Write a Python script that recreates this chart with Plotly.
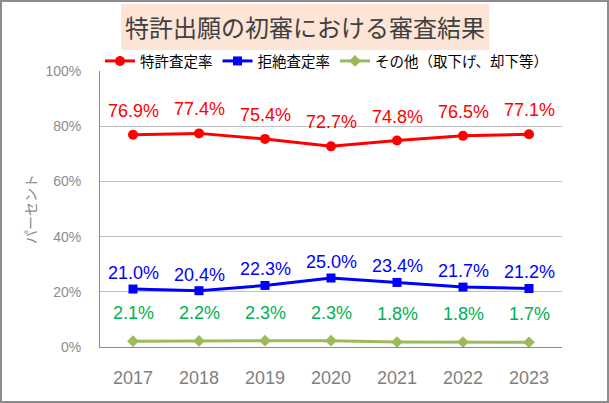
import plotly.graph_objects as go

# Data
years = ["2017", "2018", "2019", "2020", "2021", "2022", "2023"]
grant_rate = [76.9, 77.4, 75.4, 72.7, 74.8, 76.5, 77.1]
reject_rate = [21.0, 20.4, 22.3, 25.0, 23.4, 21.7, 21.2]
other_rate = [2.1, 2.2, 2.3, 2.3, 1.8, 1.8, 1.7]

series_names = ["特許査定率", "拒絶査定率", "その他（取下げ、却下等）"]
series_values = [grant_rate, reject_rate, other_rate]
line_colors = ["#ff0000", "#0000ff", "#9bbb59"]
label_colors = ["#ff0000", "#0000ff", "#00b050"]
symbols = ["circle", "square", "diamond"]
marker_sizes = [10, 9, 9]
label_shift = [24, 16, 28]

FONT = "Liberation Sans, Arial, sans-serif"
JP_FONT = "Noto Sans CJK JP"

W, H = 609, 403
L, R, T, B = 100, 47, 71, 56
pw, ph = W - L - R, H - T - B


def px_to_paper(xp, yp):
    return (xp - L) / pw, (H - B - yp) / ph


fig = go.Figure()
for name, vals, lc, sym, ms in zip(series_names, series_values, line_colors, symbols, marker_sizes):
    fig.add_trace(
        go.Scatter(
            x=years,
            y=vals,
            name=name,
            mode="lines+markers",
            line=dict(color=lc, width=3),
            marker=dict(symbol=sym, size=ms, color=lc),
        )
    )

# Data labels above each point (category index used for x)
annotations = []
for vals, tc, shift in zip(series_values, label_colors, label_shift):
    for i, v in enumerate(vals):
        annotations.append(
            dict(
                x=i,
                y=v,
                xref="x",
                yref="y",
                text=f"{v:.1f}%",
                showarrow=False,
                xanchor="center",
                yanchor="middle",
                yshift=shift,
                font=dict(family=FONT, size=18, color=tc),
            )
        )

# Title in a shaded box
tx, ty = px_to_paper(305, 27)
annotations.append(
    dict(
        x=tx,
        y=ty,
        xref="paper",
        yref="paper",
        xanchor="center",
        yanchor="middle",
        text="特許出願の初審における審査結果",
        showarrow=False,
        font=dict(family=JP_FONT, size=24, color="#404040"),
    )
)

# y-axis title
yx, yy = px_to_paper(30, 209)
annotations.append(
    dict(
        x=yx,
        y=yy,
        xref="paper",
        yref="paper",
        xanchor="center",
        yanchor="middle",
        text="パーセント",
        textangle=-90,
        showarrow=False,
        font=dict(family=JP_FONT, size=14, color="#8c8c8c"),
    )
)

bx0, by0 = px_to_paper(121, 50)
bx1, by1 = px_to_paper(489, 4)
fx0, fy0 = px_to_paper(1, 402)
fx1, fy1 = px_to_paper(608, 1)
shapes = [
    dict(
        type="rect",
        xref="paper",
        yref="paper",
        x0=bx0,
        y0=by0,
        x1=bx1,
        y1=by1,
        fillcolor="#fce4d6",
        line=dict(width=0),
        layer="below",
    ),
    dict(
        type="rect",
        xref="paper",
        yref="paper",
        x0=fx0,
        y0=fy0,
        x1=fx1,
        y1=fy1,
        line=dict(color="#8c8c8c", width=2),
    ),
]

lx, ly = px_to_paper(100, 61)

fig.update_layout(
    width=W,
    height=H,
    margin=dict(l=L, r=R, t=T, b=B, pad=0),
    paper_bgcolor="white",
    plot_bgcolor="white",
    showlegend=True,
    legend=dict(
        orientation="h",
        x=lx,
        y=ly,
        xanchor="left",
        yanchor="middle",
        font=dict(family=JP_FONT, size=14.5, color="black"),
        itemwidth=30,
        tracegroupgap=0,
        bgcolor="rgba(0,0,0,0)",
    ),
    annotations=annotations,
    shapes=shapes,
    xaxis=dict(
        type="category",
        range=[-0.5, 6.5],
        showline=True,
        linecolor="#8c8c8c",
        linewidth=1,
        showgrid=False,
        ticks="",
        ticklabelstandoff=14,
        tickfont=dict(family=FONT, size=18, color="#7f7f7f"),
    ),
    yaxis=dict(
        range=[0, 100],
        dtick=20,
        ticksuffix="%",
        showline=True,
        linecolor="#8c8c8c",
        linewidth=1,
        gridcolor="#c0c0c0",
        gridwidth=1,
        zeroline=False,
        ticks="",
        ticklabelstandoff=15,
        tickfont=dict(family=FONT, size=14, color="#8c8c8c"),
    ),
)

# remove the browser's default body margin so the figure sits at the page corner
fig.write_html(
    "out.html",
    config={"displayModeBar": False},
    post_script="document.body.style.margin='0';",
)
